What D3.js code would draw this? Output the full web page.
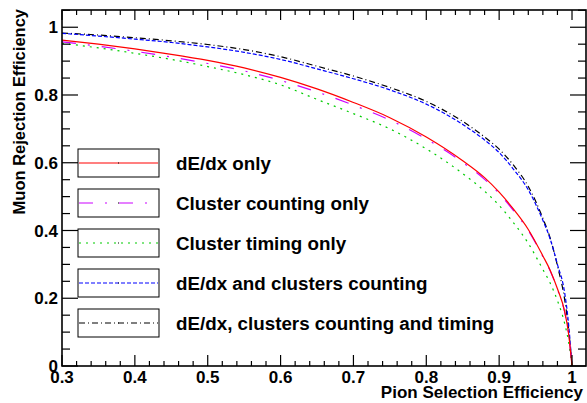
<html>
    <head>
        <script src="https://d3js.org/d3.v7.min.js"></script>
        <style>
            body { margin: 0; background: #fff; }
            text { font-family: "Liberation Sans", Arial, sans-serif; font-weight: bold; fill: #000; }
        </style>
    </head>
    <body>
        <div id="chart"></div>
    </body>
<script>
    // pion selection efficiency (x) and muon rejection efficiency per method
    var pionEff = [0.30, 0.35, 0.40, 0.45, 0.50, 0.55, 0.60, 0.65, 0.70, 0.75, 0.80, 0.85, 0.88, 0.90, 0.92, 0.94, 0.96, 0.97, 0.98, 0.99, 0.995, 1.00]
    var dedxOnly     = [0.962, 0.950, 0.936, 0.920, 0.902, 0.880, 0.852, 0.818, 0.778, 0.733, 0.676, 0.606, 0.556, 0.513, 0.462, 0.403, 0.325, 0.283, 0.228, 0.160, 0.100, 0]
    var countingOnly = [0.957, 0.944, 0.929, 0.912, 0.893, 0.871, 0.843, 0.809, 0.770, 0.726, 0.670, 0.601, 0.551, 0.509, 0.458, 0.400, 0.323, 0.281, 0.226, 0.158, 0.099, 0]
    var timingOnly   = [0.953, 0.939, 0.923, 0.905, 0.884, 0.860, 0.830, 0.787, 0.745, 0.700, 0.641, 0.568, 0.516, 0.474, 0.422, 0.362, 0.285, 0.245, 0.193, 0.125, 0.075, 0]
    var dedxCounting = [0.982, 0.974, 0.965, 0.955, 0.942, 0.926, 0.905, 0.877, 0.848, 0.815, 0.773, 0.713, 0.667, 0.630, 0.580, 0.520, 0.430, 0.375, 0.300, 0.215, 0.130, 0]
    var dedxAll      = [0.983, 0.977, 0.969, 0.960, 0.949, 0.934, 0.913, 0.885, 0.856, 0.822, 0.781, 0.722, 0.676, 0.640, 0.592, 0.530, 0.436, 0.378, 0.296, 0.195, 0.115, 0]

    var labels = ["dE/dx only", "Cluster counting only", "Cluster timing only", "dE/dx and clusters counting", "dE/dx, clusters counting and timing"]
    var seriesValues = [dedxOnly, countingOnly, timingOnly, dedxCounting, dedxAll]
    var colors = ["#ff0000", "#cc00ff", "#00cc00", "#0000ff", "#000000"]
    var dashes = [null, "14 12 2 12", "2 5 2 5", "4 2", "6 3 1 3"]
    // drawing order: the curves on top in the picture are drawn last
    var drawOrder = [4, 3, 2, 1, 0]

    var xTicks = [0.3, 0.4, 0.5, 0.6, 0.7, 0.8, 0.9, 1.0]
    var yTicks = [0, 0.2, 0.4, 0.6, 0.8, 1.0]

    var width = 587, height = 403
    // frame edges (don't call one of them "top", that is window.top)
    var padL = 62, padR = 586, padT = 10, padB = 366

    var x = d3.scaleLinear().domain([0.3, 1.0192]).range([padL, padR])
    var y = d3.scaleLinear().domain([0, 1.0509]).range([padB, padT])

    var svg = d3.select("#chart").append("svg")
        .attr("width", width)
        .attr("height", height)

    var line = d3.line()
        .x(d => x(d[0]))
        .y(d => y(d[1]))
        .curve(d3.curveMonotoneX)

    var curves = svg.append("g")
    drawOrder.forEach(function(i) {
        curves.append("path")
            .datum(pionEff.map((p, k) => [p, seriesValues[i][k]]))
            .attr("d", line)
            .attr("fill", "none")
            .attr("stroke", colors[i])
            .attr("stroke-width", 1.2)
            .attr("stroke-dasharray", dashes[i])
    })

    // ticks: minor every 0.02 on x, 0.05 on y
    var xMinor = d3.range(0.30, 1.0192, 0.02)
    var yMinor = d3.range(0, 1.0509, 0.05)
    var isMajorX = v => Math.abs(v * 10 - Math.round(v * 10)) < 1e-6
    var isMajorY = v => Math.abs(v * 5 - Math.round(v * 5)) < 1e-6

    var ticks = svg.append("g").attr("stroke", "#000").attr("stroke-width", 1.2)
    xMinor.forEach(function(v) {
        var lb = isMajorX(v) ? 11 : 5
        var lt = isMajorX(v) ? 10 : 5
        ticks.append("line").attr("x1", x(v)).attr("x2", x(v)).attr("y1", padB).attr("y2", padB - lb)
        ticks.append("line").attr("x1", x(v)).attr("x2", x(v)).attr("y1", padT).attr("y2", padT + lt)
    })
    yMinor.forEach(function(v) {
        var l = isMajorY(v) ? 16 : 8
        ticks.append("line").attr("x1", padL).attr("x2", padL + l).attr("y1", y(v)).attr("y2", y(v))
        ticks.append("line").attr("x1", padR).attr("x2", padR - l).attr("y1", y(v)).attr("y2", y(v))
    })

    svg.append("rect")
        .attr("x", padL).attr("y", padT)
        .attr("width", padR - padL).attr("height", padB - padT)
        .attr("fill", "none")
        .attr("stroke", "#000")
        .attr("stroke-width", 1.6)

    var fmt = d3.format("")
    svg.append("g").selectAll("text")
        .data(xTicks)
        .join("text")
            .attr("x", d => x(d))
            .attr("y", 383)
            .attr("text-anchor", "middle")
            .attr("font-size", 17)
            .text(d => fmt(d))

    svg.append("g").selectAll("text")
        .data(yTicks)
        .join("text")
            .attr("x", 58)
            .attr("y", d => y(d))
            .attr("dy", "0.36em")
            .attr("text-anchor", "end")
            .attr("font-size", 17)
            .text(d => fmt(d))

    svg.append("text")
        .attr("x", 583)
        .attr("y", 398)
        .attr("text-anchor", "end")
        .attr("font-size", 17)
        .text("Pion Selection Efficiency")

    svg.append("text")
        .attr("transform", "translate(25,9) rotate(-90)")
        .attr("text-anchor", "end")
        .attr("font-size", 16.5)
        .text("Muon Rejection Efficiency")

    // legend
    var legend = svg.append("g")
    labels.forEach(function(name, i) {
        var cy = 163 + i * 40
        legend.append("rect")
            .attr("x", 78).attr("y", cy - 14)
            .attr("width", 81).attr("height", 28)
            .attr("fill", "#fff")
            .attr("stroke", "#000")
            .attr("stroke-width", 1)
        legend.append("line")
            .attr("x1", 79).attr("x2", 158)
            .attr("y1", cy).attr("y2", cy)
            .attr("stroke", colors[i])
            .attr("stroke-width", 1.2)
            .attr("stroke-dasharray", dashes[i])
        legend.append("rect")
            .attr("x", 118).attr("y", cy - 0.5)
            .attr("width", 1).attr("height", 1)
            .attr("fill", "#000")
        legend.append("text")
            .attr("x", 176)
            .attr("y", cy)
            .attr("dy", "0.36em")
            .attr("font-size", 18.8)
            .text(name)
    })
</script>
</html>
